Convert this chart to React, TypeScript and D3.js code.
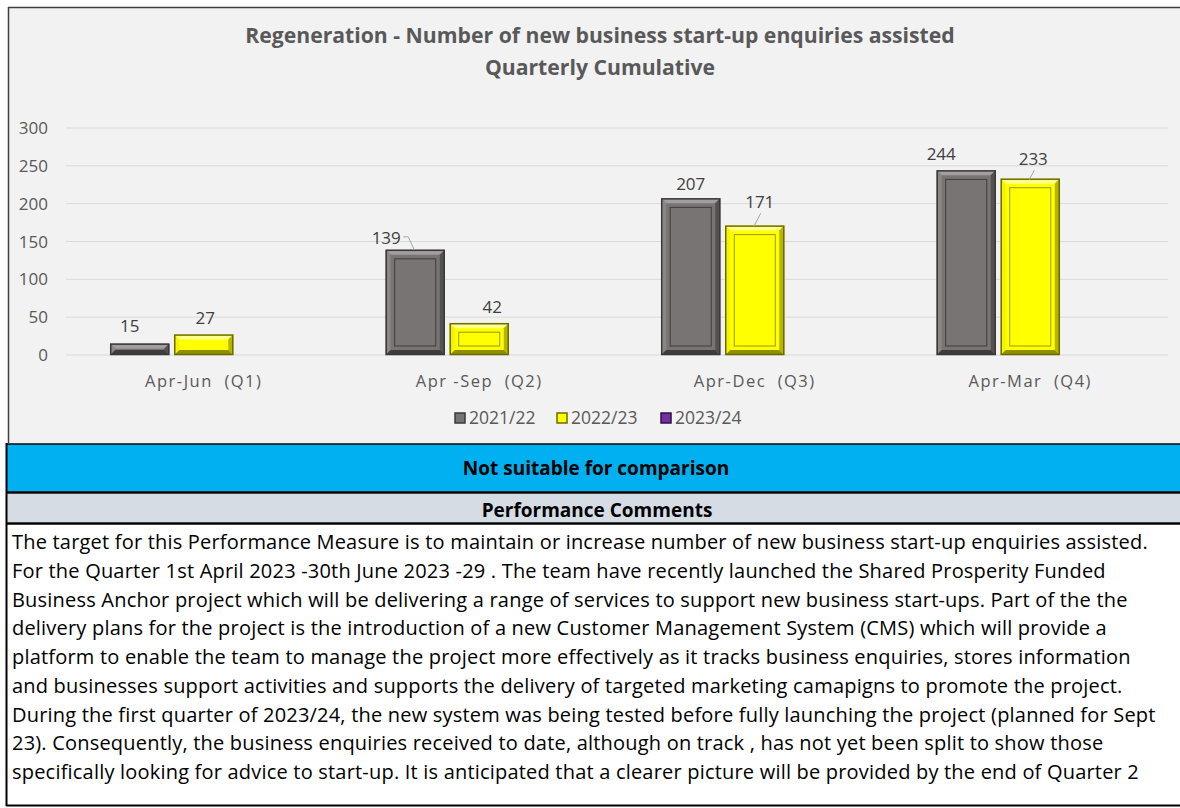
import React from "react";
import * as d3 from "d3";

// ---------- data ----------
const categories = ["Apr-Jun  (Q1)", "Apr -Sep  (Q2)", "Apr-Dec  (Q3)", "Apr-Mar  (Q4)"];
const seriesNames = ["2021/22", "2022/23", "2023/24"];
const values2021: (number | null)[] = [15, 139, 207, 244];
const values2022: (number | null)[] = [27, 42, 171, 233];
const values2023: (number | null)[] = [null, null, null, null];
const yTicks = [0, 50, 100, 150, 200, 250, 300];

const titleLines = [
  "Regeneration - Number of new business start-up enquiries assisted",
  "Quarterly Cumulative",
];
const bandText = "Not suitable for comparison";
const commentsHeader = "Performance Comments";
const commentLines = [
  "The target for this Performance Measure is to maintain or increase number of new business start-up enquiries assisted.",
  "For the Quarter 1st April 2023 -30th June 2023 -29 . The team have recently launched the Shared Prosperity Funded",
  "Business Anchor project which will be delivering a range of services to support new business start-ups. Part of the the",
  "delivery plans for the project is the introduction of a new Customer Management System (CMS) which will provide a",
  "platform to enable the team to manage the project more effectively as it tracks business enquiries, stores information",
  "and businesses support activities and supports the delivery of targeted marketing camapigns to promote the project.",
  "During the first quarter of 2023/24, the new system was being tested before fully launching the project (planned for Sept",
  "23). Consequently, the business enquiries received to date, although on track , has not yet been split to show those",
  "specifically looking for advice to start-up. It is anticipated that a clearer picture will be provided by the end of Quarter 2",
];

// ---------- layout / style ----------
const W = 1180;
const H = 808;
const FONT = "'Open Sans', Lato, sans-serif";
const plot = { left: 66, right: 1168, top: 128, bottom: 355 };

type BarStyle = { fill: string; light: string; lightSide: string; dark: string; darkSide: string; edge: string; inner: string };
const barStyles: BarStyle[] = [
  { fill: "#787473", light: "#a29e9d", lightSide: "#8a8685", dark: "#3e3c3c", darkSide: "#555151", edge: "#3a3838", inner: "#3f3d3d" },
  { fill: "#ffff00", light: "#ffff8c", lightSide: "#f4f400", dark: "#8f8f00", darkSide: "#b5b500", edge: "#6b6b00", inner: "#9a9a00" },
  { fill: "#7030a0", light: "#9a62c4", lightSide: "#8040b0", dark: "#3b1656", darkSide: "#52207a", edge: "#2e0f45", inner: "#3b1656" },
];
// label nudges (dx, dy) relative to default position above bar, and leader types
const labelNudges = [
  [[-10, -3], [-29, 2.5], [0, 0], [-25, -1.5]],
  [[1.5, -2], [13, -1.5], [5, -9], [3, -5]],
  [[0, 0], [0, 0], [0, 0], [0, 0]],
];
const labelLeaders = [
  [null, "elbow", null, null],
  [null, null, "straight", "straight"],
  [null, null, null, null],
];

function Bar({ x, y, w, h, s }: { x: number; y: number; w: number; h: number; s: BarStyle }) {
  if (h <= 0) return null;
  const b = Math.min(5, w / 2, h / 2);
  const inset = 9;
  const pts = (a: number[][]) => a.map((p) => p.join(",")).join(" ");
  return (
    <g>
      <rect x={x} y={y} width={w} height={h} fill={s.fill} />
      <polygon points={pts([[x, y], [x + w, y], [x + w - b, y + b], [x + b, y + b]])} fill={s.light} />
      <polygon points={pts([[x, y], [x + b, y + b], [x + b, y + h - b], [x, y + h]])} fill={s.lightSide} />
      <polygon points={pts([[x + w, y], [x + w, y + h], [x + w - b, y + h - b], [x + w - b, y + b]])} fill={s.darkSide} />
      <polygon points={pts([[x, y + h], [x + w, y + h], [x + w - b, y + h - b], [x + b, y + h - b]])} fill={s.dark} />
      {h > 2 * inset + 4 && (
        <rect x={x + inset} y={y + inset} width={w - 2 * inset} height={h - 2 * inset} fill="none" stroke={s.inner} strokeWidth={1} />
      )}
      <rect x={x + 0.5} y={y + 0.5} width={w - 1} height={h - 1} fill="none" stroke={s.edge} strokeWidth={1.5} />
    </g>
  );
}

export default function App() {
  const allSeries = [values2021, values2022, values2023];
  const x0 = d3
    .scaleBand<string>()
    .domain(categories)
    .range([plot.left, plot.right])
    .paddingInner(0.321)
    .paddingOuter(0.1605);
  const x1 = d3
    .scaleBand<string>()
    .domain(seriesNames)
    .range([0, x0.bandwidth()])
    .paddingInner(0.078)
    .paddingOuter(0);
  const y = d3.scaleLinear().domain([0, 300]).range([plot.bottom, plot.top]);

  const legendItems = [
    { name: seriesNames[0], x: 455, s: barStyles[0] },
    { name: seriesNames[1], x: 557, s: barStyles[1] },
    { name: seriesNames[2], x: 661, s: barStyles[2] },
  ];

  return (
    <svg width={W} height={H} style={{ position: "absolute", left: 0, top: 0 }} fontFamily={FONT}>
      {/* chart background */}
      <rect x={8} y={7} width={W - 8} height={436} fill="#f2f2f2" />
      <line x1={8} x2={W} y1={7.5} y2={7.5} stroke="#404040" strokeWidth={1.5} />
      <line x1={8.5} x2={8.5} y1={7} y2={443} stroke="#404040" strokeWidth={1.5} />

      {/* title */}
      {titleLines.map((t, i) => (
        <text key={i} x={600} y={43 + i * 32} textAnchor="middle" fontSize={21.2} fontWeight="bold" fill="#595959">
          {t}
        </text>
      ))}

      {/* gridlines + y labels */}
      {yTicks.map((t) => (
        <g key={t}>
          <line x1={plot.left} x2={plot.right} y1={y(t)} y2={y(t)} stroke="#d9d9d9" strokeWidth={1} />
          <text x={48} y={y(t) + 6} textAnchor="end" fontSize={17} fill="#595959">
            {t}
          </text>
        </g>
      ))}

      {/* bars */}
      {allSeries.map((vals, si) =>
        vals.map((v, ci) => {
          if (v == null) return null;
          const bx = (x0(categories[ci]) ?? 0) + (x1(seriesNames[si]) ?? 0);
          const bw = x1.bandwidth();
          return <Bar key={`${si}-${ci}`} x={bx} y={y(v)} w={bw} h={y(0) - y(v)} s={barStyles[si]} />;
        })
      )}

      {/* data labels */}
      {allSeries.map((vals, si) =>
        vals.map((v, ci) => {
          if (v == null) return null;
          const bx = (x0(categories[ci]) ?? 0) + (x1(seriesNames[si]) ?? 0);
          const cx = bx + x1.bandwidth() / 2;
          const top = y(v);
          const [dx, dy] = labelNudges[si][ci];
          const lx = cx + dx;
          const ly = top - 14.5 + dy;
          const leader = labelLeaders[si][ci];
          return (
            <g key={`l${si}-${ci}`}>
              {leader === "elbow" && (
                <polyline
                  points={`${lx + 17},${ly - 1} ${lx + 22},${ly - 1} ${cx - 1},${top}`}
                  fill="none"
                  stroke="#a6a6a6"
                  strokeWidth={1}
                />
              )}
              {leader === "straight" && (
                <line x1={lx + 1} y1={ly + 11} x2={cx - 1} y2={top + 1} stroke="#a6a6a6" strokeWidth={1} />
              )}
              <text x={lx} y={ly + 6} textAnchor="middle" fontSize={17} fill="#404040">
                {v}
              </text>
            </g>
          );
        })
      )}

      {/* category labels */}
      {categories.map((c) => (
        <text
          key={c}
          x={(x0(c) ?? 0) + x0.bandwidth() / 2}
          y={387}
          textAnchor="middle"
          fontSize={16.5}
          letterSpacing={1.5}
          fill="#595959"
          style={{ whiteSpace: "pre" }}
        >
          {c}
        </text>
      ))}

      {/* legend */}
      {legendItems.map((it) => (
        <g key={it.name}>
          <rect x={it.x} y={413} width={10} height={10} fill={it.s.fill} stroke={it.s.edge} strokeWidth={1.5} />
          <text x={it.x + 14} y={424} fontSize={17.5} fill="#595959">
            {it.name}
          </text>
        </g>
      ))}

      {/* blue status band */}
      <rect x={6} y={444} width={W - 6} height={48} fill="#00b0f0" />
      <line x1={6} x2={W} y1={444} y2={444} stroke="#000" strokeWidth={1.5} />
      <line x1={6} x2={W} y1={492.5} y2={492.5} stroke="#000" strokeWidth={2.5} />
      <text x={596} y={475} textAnchor="middle" fontSize={19} fontWeight="bold" fill="#000">
        {bandText}
      </text>

      {/* comments header */}
      <rect x={6} y={494} width={W - 6} height={28} fill="#d6dce4" />
      <line x1={6} x2={W} y1={523.5} y2={523.5} stroke="#000" strokeWidth={2.5} />
      <text x={597} y={517} textAnchor="middle" fontSize={19} fontWeight="bold" fill="#000">
        {commentsHeader}
      </text>

      {/* comments body */}
      <rect x={6} y={525} width={W - 6} height={280} fill="#ffffff" />
      <line x1={6} x2={W} y1={805.5} y2={805.5} stroke="#000" strokeWidth={2} />
      <line x1={6.5} x2={6.5} y1={443} y2={806} stroke="#000" strokeWidth={2} />
      {commentLines.map((l, i) => (
        <text key={i} x={12} y={549 + i * 28.75} fontSize={20} letterSpacing={0.2} fill="#000">
          {l}
        </text>
      ))}
    </svg>
  );
}
